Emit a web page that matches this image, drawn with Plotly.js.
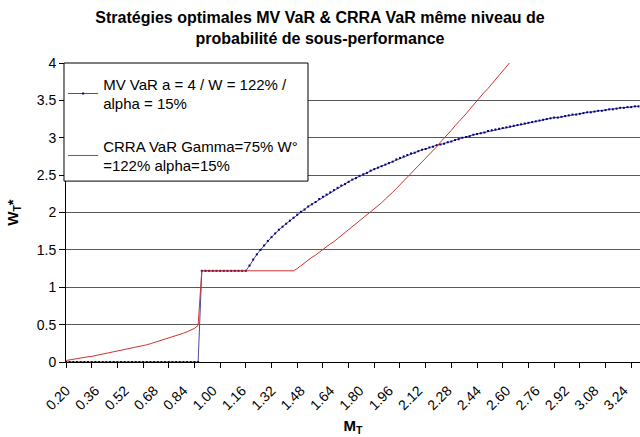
<!DOCTYPE html>
<html>
<head>
<meta charset="utf-8">
<script src="https://cdn.plot.ly/plotly-3.0.1.min.js"></script>
<style>
html,body{margin:0;padding:0;background:#fff;}
#chart{width:640px;height:437px;}
</style>
</head>
<body>
<div id="chart"></div>
<script>
// Categories: M_T values (step 0.02)
const mT = [
  0.20,0.22,0.24,0.26,0.28,0.30,0.32,0.34,0.36,0.38,
  0.40,0.42,0.44,0.46,0.48,0.50,0.52,0.54,0.56,0.58,
  0.60,0.62,0.64,0.66,0.68,0.70,0.72,0.74,0.76,0.78,
  0.80,0.82,0.84,0.86,0.88,0.90,0.92,0.94,0.96,0.98,
  1.00,1.02,1.04,1.06,1.08,1.10,1.12,1.14,1.16,1.18,
  1.20,1.22,1.24,1.26,1.28,1.30,1.32,1.34,1.36,1.38,
  1.40,1.42,1.44,1.46,1.48,1.50,1.52,1.54,1.56,1.58,
  1.60,1.62,1.64,1.66,1.68,1.70,1.72,1.74,1.76,1.78,
  1.80,1.82,1.84,1.86,1.88,1.90,1.92,1.94,1.96,1.98,
  2.00,2.02,2.04,2.06,2.08,2.10,2.12,2.14,2.16,2.18,
  2.20,2.22,2.24,2.26,2.28,2.30,2.32,2.34,2.36,2.38,
  2.40,2.42,2.44,2.46,2.48,2.50,2.52,2.54,2.56,2.58,
  2.60,2.62,2.64,2.66,2.68,2.70,2.72,2.74,2.76,2.78,
  2.80,2.82,2.84,2.86,2.88,2.90,2.92,2.94,2.96,2.98,
  3.00,3.02,3.04,3.06,3.08,3.10,3.12,3.14,3.16,3.18,
  3.20,3.22,3.24,3.26,3.28,3.30,3.32
];

// Series 1: MV VaR a = 4 / W = 122% / alpha = 15%
const mvVaR = [
  0,0,0,0,0,0,0,0,0,0,
  0,0,0,0,0,0,0,0,0,0,
  0,0,0,0,0,0,0,0,0,0,
  0,0,0,0,0,0,0,1.22,1.22,1.22,
  1.22,1.22,1.22,1.22,1.22,1.22,1.22,1.22,1.22,1.22,
  1.29,1.37,1.44,1.50,1.56,1.62,1.67,1.72,1.77,1.81,
  1.85,1.89,1.93,1.97,2.01,2.04,2.08,2.11,2.14,2.18,
  2.21,2.24,2.27,2.30,2.33,2.36,2.38,2.41,2.44,2.46,
  2.49,2.51,2.53,2.56,2.58,2.60,2.62,2.64,2.66,2.68,
  2.71,2.73,2.75,2.77,2.79,2.80,2.82,2.84,2.85,2.87,
  2.88,2.90,2.91,2.92,2.94,2.95,2.97,2.98,3.00,3.01,
  3.02,3.04,3.05,3.06,3.07,3.09,3.10,3.11,3.12,3.13,
  3.14,3.15,3.16,3.17,3.18,3.19,3.20,3.21,3.22,3.23,
  3.24,3.25,3.26,3.27,3.27,3.28,3.29,3.30,3.31,3.31,
  3.32,3.33,3.34,3.34,3.35,3.36,3.36,3.37,3.38,3.38,
  3.39,3.40,3.40,3.41,3.41,3.42,3.42
];

// Series 2: CRRA VaR Gamma=75% W° =122% alpha=15%
const crraVaR = [
  0.02,0.03,0.035,0.04,0.05,0.06,0.07,0.075,0.085,0.095,
  0.105,0.115,0.125,0.135,0.145,0.155,0.165,0.175,0.185,0.195,
  0.205,0.22,0.23,0.245,0.26,0.27,0.285,0.30,0.32,0.335,
  0.35,0.37,0.385,0.405,0.425,0.45,0.49,1.22,1.22,1.22,
  1.22,1.22,1.22,1.22,1.22,1.22,1.22,1.22,1.22,1.22,
  1.22,1.22,1.22,1.22,1.22,1.22,1.22,1.22,1.22,1.22,
  1.22,1.22,1.22,1.25,1.29,1.33,1.36,1.40,1.43,1.47,
  1.50,1.54,1.58,1.61,1.65,1.69,1.73,1.77,1.80,1.84,
  1.88,1.92,1.96,2.00,2.04,2.09,2.13,2.18,2.22,2.27,
  2.32,2.37,2.42,2.47,2.52,2.57,2.62,2.67,2.72,2.78,
  2.83,2.88,2.94,2.99,3.05,3.10,3.16,3.21,3.27,3.32,
  3.38,3.44,3.49,3.55,3.61,3.66,3.72,3.78,3.83,3.89,
  3.95,4.01,null,null,null,null,null,null,null,null,
  null,null,null,null,null,null,null,null,null,null,
  null,null,null,null,null,null,null,null,null,null,
  null,null,null,null,null,null,null
];

// Tick labels on the category axis
const xTickVals = [0.20,0.36,0.52,0.68,0.84,1.00,1.16,1.32,1.48,1.64,1.80,1.96,2.12,2.28,2.44,2.60,2.76,2.92,3.08,3.24];
const xTickText = ["0.20","0.36","0.52","0.68","0.84","1.00","1.16","1.32","1.48","1.64","1.80","1.96","2.12","2.28","2.44","2.60","2.76","2.92","3.08","3.24"];

const seriesNames = [
  "MV VaR a = 4 / W = 122% /<br>alpha = 15%",
  "CRRA VaR Gamma=75% W°<br>=122% alpha=15%"
];

const FONT = 'Arial, "Liberation Sans", sans-serif';

const traces = [
  {
    x: mT, y: mvVaR, name: seriesNames[0], type: 'scatter', mode: 'lines+markers',
    legendgroup: 'g1',
    line: {color: '#4b4b9c', width: 1},
    marker: {symbol: 'square', size: 2, color: '#000080', line: {width: 0}},
    connectgaps: false
  },
  {
    x: mT, y: crraVaR, name: seriesNames[1], type: 'scatter', mode: 'lines',
    legendgroup: 'g2',
    line: {color: '#cc3333', width: 1},
    connectgaps: false
  }
];

const layout = {
  width: 640, height: 437,
  margin: {l: 66, r: 0, t: 63, b: 75, pad: 0},
  paper_bgcolor: '#ffffff', plot_bgcolor: '#ffffff',
  font: {family: FONT, size: 14, color: '#000'},
  title: {
    text: 'Stratégies optimales MV VaR &amp; CRRA VaR même niveau de<br>probabilité de sous-performance',
    font: {family: FONT, size: 16, color: '#000', weight: 'bold'},
    x: 0.5, xref: 'container', xanchor: 'center',
    y: 0.948, yref: 'container', yanchor: 'top'
  },
  showlegend: true,
  legend: {
    x: -0.005, y: 0.985, xref: 'paper', yref: 'paper', xanchor: 'left', yanchor: 'top',
    bgcolor: 'rgba(0,0,0,0)', borderwidth: 0,
    font: {family: FONT, size: 15, color: '#000'},
    tracegroupgap: 20, traceorder: 'grouped'
  },
  shapes: [
    {type: 'rect', xref: 'paper', yref: 'paper', x0: -0.0035, x1: 0.4216, y0: 0.605, y1: 1.0,
     fillcolor: '#ffffff', line: {color: '#000', width: 1}, layer: 'above'}
  ],
  xaxis: {
    range: [0.20, 3.328],
    showgrid: false, zeroline: false,
    showline: true, linecolor: '#000', linewidth: 1,
    tickmode: 'array', tickvals: xTickVals, ticktext: xTickText,
    tickangle: -45,
    ticks: 'outside', ticklen: 14, tickcolor: 'rgba(0,0,0,0)',
    tickfont: {family: FONT, size: 14, color: '#000'},
    minor: {tickmode: 'linear', tick0: 0.20, dtick: 0.14, ticks: 'outside', ticklen: 5, tickcolor: '#000', tickwidth: 1, showgrid: false},
    title: {text: 'M<sub>T</sub>', font: {family: FONT, size: 15, color: '#000', weight: 'bold'}, standoff: 8},
    automargin: false
  },
  yaxis: {
    range: [0, 4], dtick: 0.5, tick0: 0,
    showgrid: true, gridcolor: '#5a5a5a', gridwidth: 1,
    zeroline: false,
    showline: true, linecolor: '#000', linewidth: 1,
    ticks: 'outside', ticklen: 6, tickcolor: '#000',
    tickfont: {family: FONT, size: 14, color: '#000'},
    title: {text: 'W<sub>T</sub>*', font: {family: FONT, size: 15, color: '#000', weight: 'bold'}, standoff: 14},
    automargin: false
  }
};

Plotly.newPlot('chart', traces, layout, {staticPlot: true, displayModeBar: false});
</script>
</body>
</html>
